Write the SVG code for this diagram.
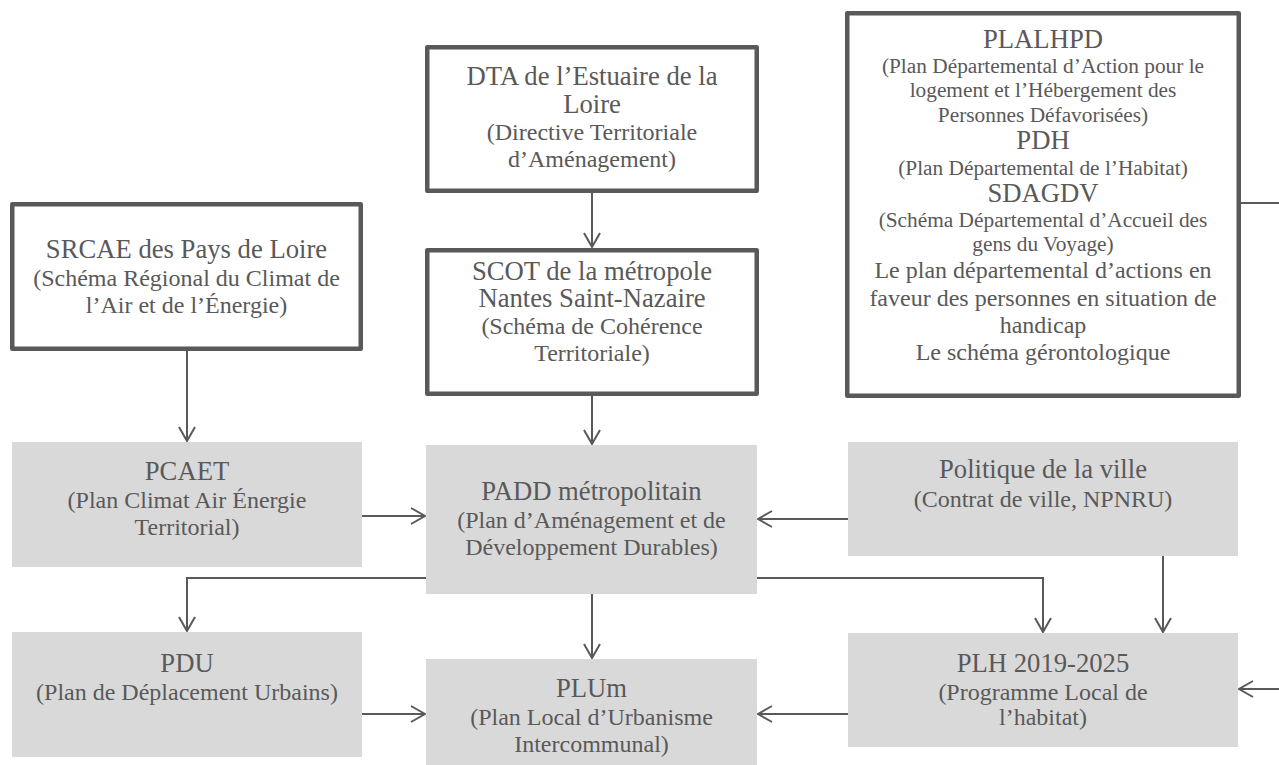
<svg xmlns="http://www.w3.org/2000/svg" width="1279" height="765" viewBox="0 0 1279 765">
<style>
.wb{fill:#ffffff;stroke:#595959;stroke-width:4.5;stroke-linejoin:round}
.gb{fill:#d9d9d9;stroke:none}
.t{font-family:"Liberation Serif","Times New Roman",serif;fill:#595959;text-anchor:middle}
.h{font-size:26.67px}
.s{font-size:24px}
.m{font-size:21.33px}
.c{fill:none;stroke:#595959;stroke-width:2}
</style>
<defs>
<marker id="arr" viewBox="-16 -10 18 20" refX="0" refY="0" markerWidth="18" markerHeight="20" markerUnits="userSpaceOnUse" orient="auto" overflow="visible">
<path d="M-14,-8 L0,0 L-14,8" fill="none" stroke="#595959" stroke-width="2"/>
</marker>
</defs>
<rect width="1279" height="765" fill="#ffffff"/>

<g id="connectors">
<path class="c" d="M187,351 V441" marker-end="url(#arr)"/>
<path class="c" d="M592,193 V247" marker-end="url(#arr)"/>
<path class="c" d="M592,396 V444" marker-end="url(#arr)"/>
<path class="c" d="M362,516 H425" marker-end="url(#arr)"/>
<path class="c" d="M848,519 H758" marker-end="url(#arr)"/>
<path class="c" d="M426,578 H187 V631" marker-end="url(#arr)"/>
<path class="c" d="M757,578 H1043 V632" marker-end="url(#arr)"/>
<path class="c" d="M592,594 V658" marker-end="url(#arr)"/>
<path class="c" d="M1163,556 V632" marker-end="url(#arr)"/>
<path class="c" d="M362,714 H425" marker-end="url(#arr)"/>
<path class="c" d="M848,714 H758" marker-end="url(#arr)"/>
<path class="c" d="M1279,689 H1239" marker-end="url(#arr)"/>
<path class="c" d="M1241,203 H1279"/>
</g>

<g id="srcae">
<rect class="wb" x="12.25" y="204.25" width="348.5" height="144.5"/>
<text class="t h" x="186.5" y="258">SRCAE des Pays de Loire</text>
<text class="t s" x="186.5" y="286">(Schéma Régional du Climat de</text>
<text class="t s" x="186.5" y="313">l’Air et de l’Énergie)</text>
</g>

<g id="dta">
<rect class="wb" x="427.25" y="47.25" width="329.5" height="143.5"/>
<text class="t h" x="592" y="85">DTA de l’Estuaire de la</text>
<text class="t h" x="592" y="113">Loire</text>
<text class="t s" x="592" y="140">(Directive Territoriale</text>
<text class="t s" x="592" y="167">d’Aménagement)</text>
</g>

<g id="scot">
<rect class="wb" x="427.25" y="250.25" width="329.5" height="143.5"/>
<text class="t h" x="592" y="280">SCOT de la métropole</text>
<text class="t h" x="592" y="307">Nantes Saint-Nazaire</text>
<text class="t s" x="592" y="334">(Schéma de Cohérence</text>
<text class="t s" x="592" y="361">Territoriale)</text>
</g>

<g id="plalhpd">
<rect class="wb" x="847.25" y="13.25" width="391.5" height="382.5"/>
<text class="t h" x="1043" y="48">PLALHPD</text>
<text class="t m" x="1043" y="73">(Plan Départemental d’Action pour le</text>
<text class="t m" x="1043" y="97">logement et l’Hébergement des</text>
<text class="t m" x="1043" y="122">Personnes Défavorisées)</text>
<text class="t h" x="1043" y="149">PDH</text>
<text class="t m" x="1043" y="175">(Plan Départemental de l’Habitat)</text>
<text class="t h" x="1043" y="202">SDAGDV</text>
<text class="t m" x="1043" y="227">(Schéma Départemental d’Accueil des</text>
<text class="t m" x="1043" y="251">gens du Voyage)</text>
<text class="t s" x="1043" y="278">Le plan départemental d’actions en</text>
<text class="t s" x="1043" y="306">faveur des personnes en situation de</text>
<text class="t s" x="1043" y="333">handicap</text>
<text class="t s" x="1043" y="360">Le schéma gérontologique</text>
</g>

<g id="pcaet">
<rect class="gb" x="12" y="442" width="350" height="125"/>
<text class="t h" x="187" y="480">PCAET</text>
<text class="t s" x="187" y="508">(Plan Climat Air Énergie</text>
<text class="t s" x="187" y="535">Territorial)</text>
</g>

<g id="padd">
<rect class="gb" x="426" y="445" width="331" height="149"/>
<text class="t h" x="591.5" y="500">PADD métropolitain</text>
<text class="t s" x="591.5" y="528">(Plan d’Aménagement et de</text>
<text class="t s" x="591.5" y="555">Développement Durables)</text>
</g>

<g id="politique">
<rect class="gb" x="848" y="442" width="390" height="114"/>
<text class="t h" x="1043" y="478">Politique de la ville</text>
<text class="t s" x="1043" y="507">(Contrat de ville, NPNRU)</text>
</g>

<g id="pdu">
<rect class="gb" x="12" y="632" width="350" height="125"/>
<text class="t h" x="187" y="672">PDU</text>
<text class="t s" x="187" y="700">(Plan de Déplacement Urbains)</text>
</g>

<g id="plum">
<rect class="gb" x="426" y="659" width="331" height="106"/>
<text class="t h" x="591.5" y="697">PLUm</text>
<text class="t s" x="591.5" y="725">(Plan Local d’Urbanisme</text>
<text class="t s" x="591.5" y="752">Intercommunal)</text>
</g>

<g id="plh">
<rect class="gb" x="848" y="633" width="390" height="114"/>
<text class="t h" x="1043" y="672">PLH 2019-2025</text>
<text class="t s" x="1043" y="700">(Programme Local de</text>
<text class="t s" x="1043" y="725">l’habitat)</text>
</g>
</svg>
